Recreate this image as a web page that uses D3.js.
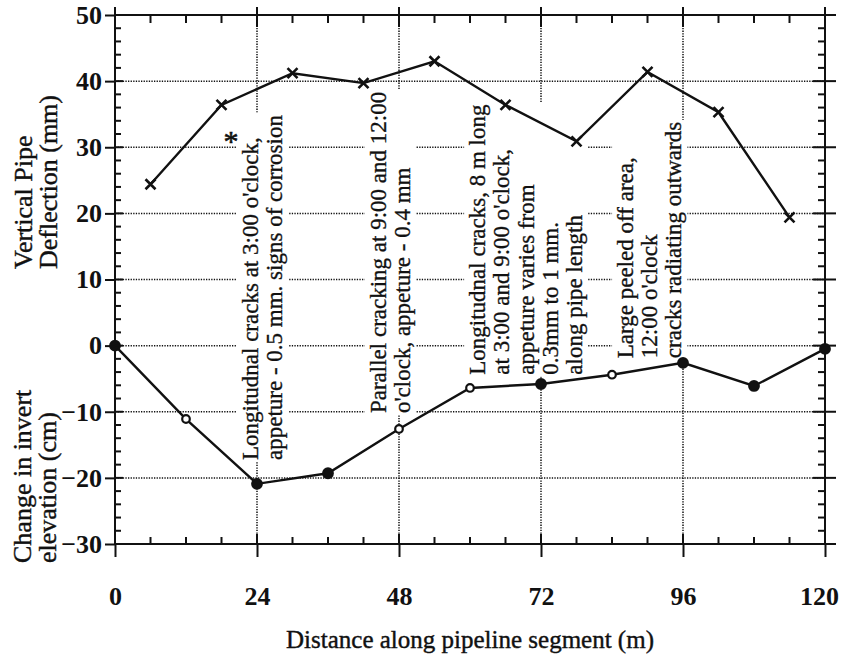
<!DOCTYPE html>
<html>
<head>
<meta charset="utf-8">
<script src="https://cdn.jsdelivr.net/npm/d3@7"></script>
<style>
  body { margin: 0; background: #fff; }
  svg text { font-family: "Liberation Serif", "Times New Roman", serif; fill: #111; }
</style>
</head>
<body>
<svg id="chart" width="843" height="663"></svg>
<script>
// Upper trace: vertical pipe deflection (mm) at each sampled distance (m)
const deflectionX = [6, 18, 30, 42, 54, 66, 78, 90, 102, 114];
const deflectionMM = [24.4, 36.4, 41.2, 39.7, 43.0, 36.4, 30.9, 41.4, 35.3, 19.4];

// Lower trace: change in invert elevation (cm)
const invertX = [0, 12, 24, 36, 48, 60, 72, 84, 96, 108, 120];
const invertCM = [0, -11.1, -20.9, -19.3, -12.6, -6.4, -5.8, -4.4, -2.6, -6.1, -0.5];
const openMarkerX = [12, 48, 60, 84];

// Single flagged reading
const starX = [19.6];
const starY = [32.2];

// Axis ticks
const xTicks = [0, 24, 48, 72, 96, 120];
const yTicks = [50, 40, 30, 20, 10, 0, -10, -20, -30];
const xGrid = [24, 48, 72, 96];
const yGrid = [40, 30, 20, 10, 0, -10, -20];

// Condition notes, anchored (distance, value) at the start of their first line
const noteX = [22.8, 44.4, 61.2, 86.2];
const noteY = [-17.3, -10.2, -4.4, -1.9];
const noteLines = [
  ["Longitudnal cracks at 3:00 o'clock,", "appeture - 0.5 mm. signs of corrosion"],
  ["Parallel cracking at 9:00 and 12:00", "o'clock, appeture - 0.4 mm"],
  ["Longitudnal cracks, 8 m long", "at 3:00 and 9:00 o'clock,", "appeture varies from", "0.3mm to 1 mm.", "along pipe length"],
  ["Large peeled off area,", "12:00 o'clock", "cracks radiating outwards"]
];

const svg = d3.select("#chart");
const plot = { left: 115, right: 825, top: 15, bottom: 544 };

const x = d3.scaleLinear().domain([0, 120]).range([plot.left, plot.right]);
const y = d3.scaleLinear().domain([-30, 50]).range([plot.bottom, plot.top]);

// Dotted grid
const grid = svg.append("g").attr("stroke", "#111").attr("stroke-width", 1.5)
  .attr("stroke-dasharray", "1.3,1.3");
grid.selectAll("line.h").data(yGrid).join("line").attr("class", "h")
  .attr("x1", plot.left).attr("x2", plot.right).attr("y1", d => y(d)).attr("y2", d => y(d));
grid.selectAll("line.v").data(xGrid).join("line").attr("class", "v")
  .attr("y1", plot.top).attr("y2", plot.bottom).attr("x1", d => x(d)).attr("x2", d => x(d));

// Notes with white backing so the grid stops behind them
const noteGap = 24.2;
noteLines.forEach((lines, i) => {
  const g = svg.append("g")
    .attr("transform", `translate(${x(noteX[i])},${y(noteY[i])}) rotate(-90)`);
  const bg = g.append("rect").attr("fill", "#fff");
  lines.forEach((t, j) => {
    g.append("text").attr("x", 0).attr("y", j * noteGap).attr("dy", "0.35em")
      .attr("font-size", 23).attr("stroke", "#111").attr("stroke-width", 0.35).text(t);
  });
  const bb = g.node().getBBox();
  bg.attr("x", bb.x - 2).attr("y", bb.y - 1).attr("width", bb.width + 4).attr("height", bb.height + 2);
});

// Traces
const line = d3.line().x(d => x(d[0])).y(d => y(d[1]));
const defl = deflectionX.map((d, i) => [d, deflectionMM[i]]);
const inv = invertX.map((d, i) => [d, invertCM[i]]);

svg.append("path").datum(defl).attr("d", line)
  .attr("fill", "none").attr("stroke", "#111").attr("stroke-width", 2.4);
svg.append("path").datum(inv).attr("d", line)
  .attr("fill", "none").attr("stroke", "#111").attr("stroke-width", 2.4);

svg.selectAll("path.cross").data(defl).join("path").attr("class", "cross")
  .attr("transform", d => `translate(${x(d[0])},${y(d[1])})`)
  .attr("d", "M-5,-5L5,5M-5,5L5,-5")
  .attr("stroke", "#111").attr("stroke-width", 2.6);

svg.selectAll("circle.dot").data(inv).join("circle").attr("class", "dot")
  .attr("cx", d => x(d[0])).attr("cy", d => y(d[1]))
  .attr("r", d => openMarkerX.includes(d[0]) ? 3.8 : 4.8)
  .attr("fill", d => openMarkerX.includes(d[0]) ? "#fff" : "#111")
  .attr("stroke", "#111").attr("stroke-width", 2.2);

svg.selectAll("text.star").data(starX).join("text").attr("class", "star")
  .attr("x", d => x(d)).attr("y", (d, i) => y(starY[i]))
  .attr("dy", "0.62em").attr("text-anchor", "middle").attr("font-size", 30)
  .attr("stroke", "#111").attr("stroke-width", 0.6).text("*");

// Frame with crossing major ticks and inward minor ticks
const frame = svg.append("g").attr("stroke", "#111").attr("stroke-width", 2).attr("fill", "none");
frame.append("rect").attr("x", plot.left).attr("y", plot.top)
  .attr("width", plot.right - plot.left).attr("height", plot.bottom - plot.top);

const xMinor = d3.range(0, 121, 6).filter(v => v % 24 !== 0);
const yMinor = d3.range(-30, 51, 2).filter(v => v % 10 !== 0);

xMinor.forEach(v => {
  frame.append("line").attr("x1", x(v)).attr("x2", x(v)).attr("y1", plot.top).attr("y2", plot.top + 8);
  frame.append("line").attr("x1", x(v)).attr("x2", x(v)).attr("y1", plot.bottom).attr("y2", plot.bottom - 7);
});
yMinor.forEach(v => {
  frame.append("line").attr("y1", y(v)).attr("y2", y(v)).attr("x1", plot.left).attr("x2", plot.left + 6);
  frame.append("line").attr("y1", y(v)).attr("y2", y(v)).attr("x1", plot.right).attr("x2", plot.right - 7);
});
xTicks.forEach(v => {
  frame.append("line").attr("x1", x(v)).attr("x2", x(v)).attr("y1", plot.top - 8).attr("y2", plot.top + 12);
  frame.append("line").attr("x1", x(v)).attr("x2", x(v)).attr("y1", plot.bottom - 10).attr("y2", plot.bottom);
});
yTicks.forEach(v => {
  frame.append("line").attr("y1", y(v)).attr("y2", y(v)).attr("x1", plot.left).attr("x2", plot.left + 8);
  frame.append("line").attr("y1", y(v)).attr("y2", y(v)).attr("x1", plot.right - 12).attr("x2", plot.right + 11);
});

// Labelled axes
const xAxis = svg.append("g").attr("transform", `translate(0,${plot.bottom})`)
  .call(d3.axisBottom(x).tickValues(xTicks).tickSize(13).tickPadding(30).tickFormat(d3.format("d")));
const yAxis = svg.append("g").attr("transform", `translate(${plot.left},0)`)
  .call(d3.axisLeft(y).tickValues(yTicks).tickSize(10).tickPadding(3).tickFormat(d3.format("d")));
[xAxis, yAxis].forEach(a => {
  a.select(".domain").remove();
  a.selectAll(".tick line").attr("stroke", "#111").attr("stroke-width", 2);
  a.selectAll(".tick text").attr("font-family", "Liberation Serif, serif")
    .attr("font-size", 26).attr("font-weight", "bold").attr("fill", "#111");
});
// keep the last distance label inside the page edge
xAxis.selectAll(".tick text").filter(d => d === 120).attr("dx", -6);

// Axis titles
svg.append("text").attr("x", (plot.left + plot.right) / 2).attr("y", 648)
  .attr("text-anchor", "middle").attr("font-size", 25)
  .attr("stroke", "#111").attr("stroke-width", 0.4).text("Distance along pipeline segment (m)");

const yTitle = (lines, bx, by) => {
  const g = svg.append("g").attr("transform", `translate(${bx},${by}) rotate(-90)`);
  lines.forEach((t, j) => g.append("text").attr("x", 0).attr("y", j * 25).attr("dy", "0.35em")
    .attr("font-size", 26).attr("stroke", "#111").attr("stroke-width", 0.4).text(t));
};
yTitle(["Vertical Pipe", "Deflection (mm)"], 23, 269);
yTitle(["Change in invert", "elevation (cm)"], 22, 563);
</script>
</body>
</html>
